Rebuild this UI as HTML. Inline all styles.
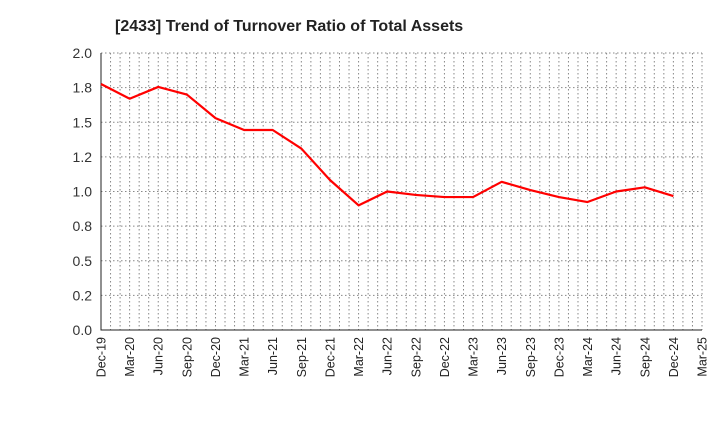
<!DOCTYPE html>
<html><head><meta charset="utf-8"><style>
body{margin:0;background:#fff;font-family:"Liberation Sans",sans-serif;}
</style></head><body>
<svg id="c" width="720" height="440" xmlns="http://www.w3.org/2000/svg">
<text x="115" y="31" font-size="16" font-weight="bold" fill="#222">[2433]  Trend of Turnover Ratio of Total Assets</text>
</svg>
<script>
const categories=["Dec-19","Mar-20","Jun-20","Sep-20","Dec-20","Mar-21","Jun-21","Sep-21","Dec-21","Mar-22","Jun-22","Sep-22","Dec-22","Mar-23","Jun-23","Sep-23","Dec-23","Mar-24","Jun-24","Sep-24","Dec-24","Mar-25"];
const values=[1.776,1.67,1.755,1.70,1.53,1.444,1.444,1.31,1.083,0.90,1.00,0.975,0.96,0.96,1.07,1.01,0.96,0.924,1.00,1.03,0.967];
const yTicks=[0,0.25,0.5,0.75,1.0,1.25,1.5,1.75,2.0];
const yTickLabels=["0.0","0.2","0.5","0.8","1.0","1.2","1.5","1.8","2.0"];
const L=101,R=702,T=53,B=330;
const svg=document.getElementById('c');
const ns="http://www.w3.org/2000/svg";
const n=categories.length-1;
const x=i=>L+(R-L)*i/n;
const y=v=>B-(B-T)*v/2.0;
function mk(t,a){const e=document.createElementNS(ns,t);for(const k in a)e.setAttribute(k,a[k]);svg.appendChild(e);return e;}
for(let m=1;m<=n*3;m++){const xx=L+(R-L)*m/(n*3);
const g=mk('line',{x1:xx,x2:xx,y1:T,y2:B,stroke:'#888','stroke-width':1,'stroke-dasharray':'1.5,2.5'});

}
yTicks.forEach((v,i)=>{
if(v>0){const g=mk('line',{x1:L,x2:R,y1:y(v),y2:y(v),stroke:'#888','stroke-width':1,'stroke-dasharray':'1.5,2.5'});

}
const t=mk('text',{x:L-9,y:y(v)+5,'text-anchor':'end','font-size':14,fill:'#333'});t.textContent=yTickLabels[i];


});
const ax=mk('path',{d:`M${L},${T}V${B}H${R}`,stroke:'#222','stroke-width':1,fill:'none'});


categories.forEach((c,i)=>{
const t=mk('text',{x:0,y:0,'text-anchor':'end','font-size':12.5,fill:'#222',transform:`translate(${x(i)+4.5},${B+7}) rotate(-90)`});t.textContent=c;


});
const p=mk('polyline',{points:values.map((v,i)=>x(i)+','+y(v)).join(' '),fill:'none',stroke:'#f00','stroke-width':2.2,'stroke-linejoin':'round'});


</script>
</body></html>
